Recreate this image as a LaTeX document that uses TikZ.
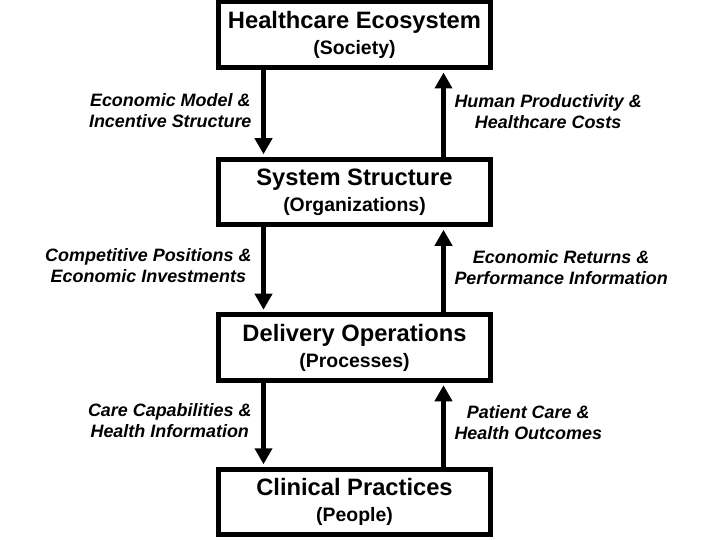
\documentclass[tikz,border=0pt]{standalone}
\usepackage{fontspec}
\setmainfont{Liberation Sans}
\usetikzlibrary{arrows.meta,positioning}
\definecolor{CareInk}{HTML}{000000}

\begin{document}
\begin{tikzpicture}[x=1bp,y=-1bp,
    layerbox/.style={draw=CareInk,line width=5bp,rectangle,inner sep=0pt,
      minimum width=272bp,minimum height=65.5bp,align=center,
      font=\fontsize{19.5}{26}\selectfont\bfseries},
    flowarrow/.style={-{Triangle[length=16bp,width=17bp]},CareInk,
      line width=5bp,shorten >=2.5bp},
    leftnote/.style={anchor=east,align=center,
      font=\fontsize{18}{21}\selectfont\bfseries\itshape},
    rightnote/.style={anchor=west,align=center,
      font=\fontsize{18}{21}\selectfont\bfseries\itshape}]

        \useasboundingbox (0,0) rectangle (720,540);

        % the four layers
        \node[layerbox] (society) at (354.5,34.75)
          {{\fontsize{23.8}{26}\selectfont Healthcare Ecosystem}\\(Society)};

        \node[layerbox] (orgs) at (354.5,192)
          {{\fontsize{23.8}{26}\selectfont System Structure}\\(Organizations)};

        \node[layerbox] (procs) at (354.5,347.5)
          {{\fontsize{23.8}{26}\selectfont Delivery Operations}\\(Processes)};

        \node[layerbox] (people) at (354.5,502)
          {{\fontsize{23.8}{26}\selectfont Clinical Practices}\\(People)};

        % arrow columns
        \coordinate (down) at (263.5,0);
        \coordinate (up) at (443.5,0);

        \draw[flowarrow] (society.south -| down) -- (orgs.north -| down);
        \draw[flowarrow] (orgs.north -| up) -- (society.south -| up);

        \draw[flowarrow] (orgs.south -| down) -- (procs.north -| down);
        \draw[flowarrow] (procs.north -| up) -- (orgs.south -| up);

        \draw[flowarrow] (procs.south -| down) -- (people.north -| down);
        \draw[flowarrow] (people.north -| up) -- (procs.south -| up);

        % labels
        \node[leftnote] (modelNote) at (255,110.5)
          {Economic Model \&\\Incentive Structure};
        \node[rightnote] (costNote) at (451,111.5)
          {Human Productivity \&\\Healthcare Costs};

        \node[leftnote] (investNote) at (255,265.5)
          {Competitive Positions \&\\Economic Investments};
        \node[rightnote] (returnNote) at (451,268)
          {Economic Returns \&\\Performance Information};

        \node[leftnote] (capNote) at (255,421)
          {Care Capabilities \&\\Health Information};
        \node[rightnote] (outcomeNote) at (451,423)
          {Patient Care \&\\Health Outcomes};

      \end{tikzpicture}
\end{document}
